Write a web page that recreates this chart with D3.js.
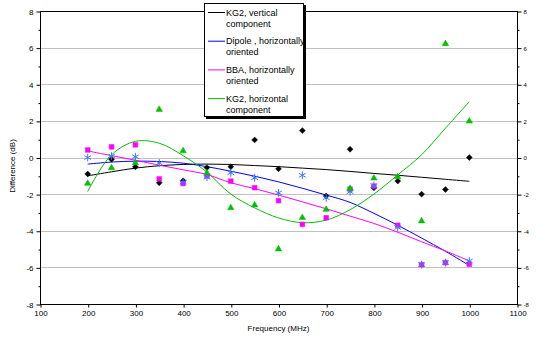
<!DOCTYPE html>
<html>
<head>
<meta charset="utf-8">
<script src="https://cdn.jsdelivr.net/npm/d3@7"></script>
<style>
  body { margin: 0; background: #fff; }
  text { font-family: "Liberation Sans", Arial, sans-serif; fill: #000; }
</style>
</head>
<body>
<div id="container"></div>
<script>
let w = 553;
let h = 350;

// measured points (MHz, dB)
let freqs = [200, 250, 300, 350, 400, 450, 500, 550, 600, 650, 700, 750, 800, 850, 900, 950, 1000];
let kg2Vertical = [-0.9, -0.1, -0.51, -1.38, -1.27, -0.55, -0.5, 0.96, -0.62, 1.47, -2.1, 0.45, -1.66, -1.29, -2.0, -1.75, 0.0];
let dipole = [0.0, 0.08, 0.04, -0.3, -1.35, -1.08, -0.84, -1.11, -1.93, -0.97, -2.2, -1.87, -1.53, -3.82, -5.85, -5.74, -5.65];
let bba = [0.41, 0.58, 0.69, -1.17, -1.42, -1.0, -1.29, -1.65, -2.36, -3.65, -3.29, -1.73, -1.56, -3.7, -5.85, -5.74, -5.83];
let kg2Horizontal = [-1.42, -0.57, -0.29, 2.62, 0.36, -0.84, -2.75, -2.6, -5.0, -3.29, -2.84, -1.69, -1.13, -1.06, -3.47, 6.21, 1.98];

// trend lines at the same frequencies
let kg2VerticalTrend = [-1.0, -0.78, -0.58, -0.45, -0.38, -0.36, -0.38, -0.44, -0.5, -0.58, -0.66, -0.76, -0.87, -0.97, -1.08, -1.19, -1.3];
let dipoleTrend = [-0.36, -0.25, -0.2, -0.22, -0.31, -0.5, -0.75, -1.02, -1.33, -1.68, -2.05, -2.45, -3.05, -3.7, -4.4, -5.12, -5.9];
let bbaTrend = [0.36, 0.1, -0.15, -0.42, -0.67, -0.93, -1.38, -1.7, -2.05, -2.42, -2.8, -3.2, -3.6, -4.08, -4.6, -5.1, -5.65];
let kg2HorizontalTrend = [-1.85, 0.15, 0.88, 0.78, 0.1, -0.8, -2.0, -2.75, -3.3, -3.56, -3.42, -2.85, -2.0, -0.95, 0.15, 1.6, 3.05];

let xTicks = [100, 200, 300, 400, 500, 600, 700, 800, 900, 1000, 1100];
let yTicks = [-8, -6, -4, -2, 0, 2, 4, 6, 8];
let yMinorTicks = [-7, -5, -3, -1, 1, 3, 5, 7];

let seriesNames = [
  ["KG2, vertical", "component"],
  ["Dipole , horizontally", "oriented"],
  ["BBA, horizontally", "oriented"],
  ["KG2, horizontal", "component"]
];

let viz = d3.select("#container")
  .append("svg")
  .attr("width", w)
  .attr("height", h)
  .style("background-color", "white");

let plotLeft = 40, plotRight = 517, plotTop = 11, plotBottom = 304;

let xScale = d3.scaleLinear().domain([100, 1100]).range([plotLeft, plotRight]);
let yScale = d3.scaleLinear().domain([-8, 8]).range([plotBottom, plotTop]);

// gridlines
viz.append("g").selectAll("line")
  .data(yTicks.filter(d => d > -8 && d < 8)).enter()
  .append("line")
  .attr("x1", plotLeft).attr("x2", plotRight)
  .attr("y1", d => Math.round(yScale(d)) + 0.5)
  .attr("y2", d => Math.round(yScale(d)) + 0.5)
  .attr("stroke", "#c0c0c0")
  .attr("stroke-width", 1);

// plot border
viz.append("rect")
  .attr("x", plotLeft + 0.5).attr("y", plotTop + 0.5)
  .attr("width", plotRight - plotLeft).attr("height", plotBottom - plotTop)
  .attr("fill", "none").attr("stroke", "#000");

function styleAxis(g, size) {
  g.select(".domain").remove();
  g.selectAll("line").attr("stroke", "#000");
  g.selectAll("text").style("font-size", size + "px").attr("fill", "#000");
}

// left axis
let yAxisGroup = viz.append("g").attr("transform", "translate(" + (plotLeft + 0.5) + ",0.5)");
yAxisGroup.call(d3.axisLeft(yScale).tickValues(yTicks).tickSize(4).tickPadding(3).tickFormat(d => String(d)));
styleAxis(yAxisGroup, 8);
viz.append("g").attr("transform", "translate(" + (plotLeft + 0.5) + ",0.5)")
  .call(d3.axisLeft(yScale).tickValues(yMinorTicks).tickSize(2).tickFormat(""))
  .call(g => styleAxis(g, 8));

// right axis
let yAxisRight = viz.append("g").attr("transform", "translate(" + (plotRight + 0.5) + ",0.5)");
yAxisRight.call(d3.axisRight(yScale).tickValues(yTicks).tickSize(4).tickPadding(2).tickFormat(d => String(d)));
styleAxis(yAxisRight, 6);
viz.append("g").attr("transform", "translate(" + (plotRight + 0.5) + ",0.5)")
  .call(d3.axisRight(yScale).tickValues(yMinorTicks).tickSize(2).tickFormat(""))
  .call(g => styleAxis(g, 6));

// bottom axis
let xAxisGroup = viz.append("g").attr("transform", "translate(0.5," + (plotBottom + 0.5) + ")");
xAxisGroup.call(d3.axisBottom(xScale).tickValues(xTicks).tickSize(3).tickPadding(3).tickFormat(d => String(d)));
styleAxis(xAxisGroup, 8);

// axis titles
viz.append("text")
  .attr("x", (plotLeft + plotRight) / 2).attr("y", 331)
  .attr("text-anchor", "middle")
  .style("font-size", "8px")
  .text("Frequency (MHz)");

viz.append("text")
  .attr("transform", "translate(15,166) rotate(-90)")
  .attr("text-anchor", "middle")
  .style("font-size", "8px")
  .text("Difference (dB)");

// trend lines
let line = d3.line()
  .x(d => xScale(d[0]))
  .y(d => yScale(d[1]))
  .curve(d3.curveCatmullRom.alpha(0.5));

let trends = [
  [kg2VerticalTrend, "#000000"],
  [dipoleTrend, "#0000ff"],
  [bbaTrend, "#ff00ff"],
  [kg2HorizontalTrend, "#00c000"]
];

viz.append("g").selectAll("path")
  .data(trends).enter()
  .append("path")
  .attr("d", d => line(freqs.map((f, i) => [f, d[0][i]])))
  .attr("fill", "none")
  .attr("stroke", d => d[1])
  .attr("stroke-width", 1);

// markers
function drawMarkers(values, symbolType, size, color, stroked) {
  let sym = d3.symbol().type(symbolType).size(size);
  viz.append("g").selectAll("path")
    .data(freqs.map((f, i) => [f, values[i]])).enter()
    .append("path")
    .attr("d", sym)
    .attr("transform", d => "translate(" + xScale(d[0]) + "," + yScale(d[1]) + ")")
    .attr("fill", stroked ? "none" : color)
    .attr("stroke", color)
    .attr("stroke-width", stroked ? 1 : 0.5);
}

let diamondType = d3.symbolDiamond2 || d3.symbolDiamond;
drawMarkers(kg2Vertical, diamondType, 22, "#000000", false);
drawMarkers(bba, d3.symbolSquare, 22, "#ff00ff", false);
drawMarkers(dipole, d3.symbolAsterisk, 42, "#3a78ff", true);
drawMarkers(kg2Horizontal, d3.symbolTriangle, 18, "#00c000", false);

// legend
let legend = viz.append("g").attr("class", "legend");
legend.append("rect")
  .attr("x", 206).attr("y", 5)
  .attr("width", 100).attr("height", 114)
  .attr("fill", "#000");
legend.append("rect")
  .attr("x", 204.5).attr("y", 3.5)
  .attr("width", 99).attr("height", 113)
  .attr("fill", "#fff").attr("stroke", "#000");

let legendItems = legend.selectAll(".item")
  .data(trends).enter()
  .append("g")
  .attr("class", "item")
  .attr("transform", (d, i) => "translate(0," + (12 + i * 28.7) + ")");

legendItems.append("line")
  .attr("x1", 208).attr("x2", 225)
  .attr("y1", 0.5).attr("y2", 0.5)
  .attr("stroke", d => d[1]);

legendItems.append("text")
  .attr("x", 226).attr("y", 3.5)
  .style("font-size", "9px")
  .text((d, i) => seriesNames[i][0]);

legendItems.append("text")
  .attr("x", 226).attr("y", 14.5)
  .style("font-size", "9px")
  .text((d, i) => seriesNames[i][1]);
</script>
</body>
</html>
